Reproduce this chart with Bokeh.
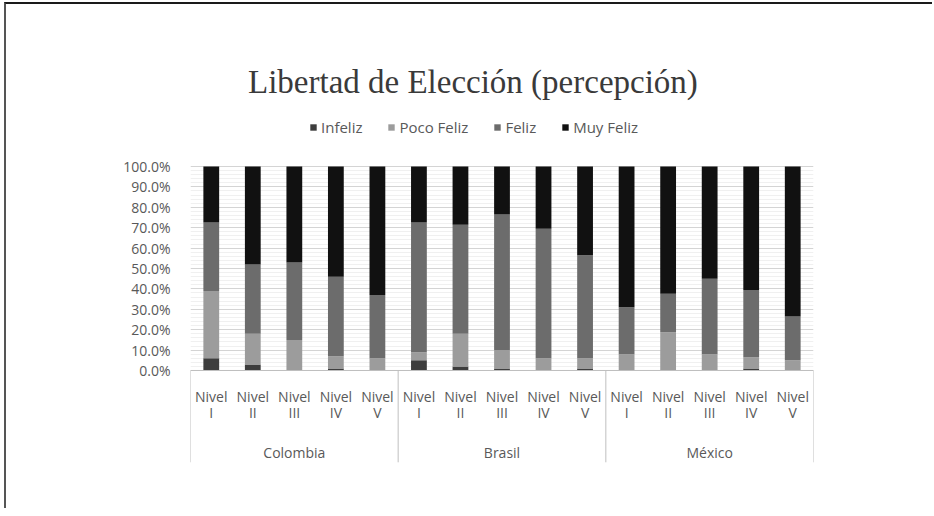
import numpy as np
from bokeh.plotting import figure
from bokeh.models import (FactorRange, Range1d, Legend, LegendItem, Label,
                          NumeralTickFormatter, FixedTicker, ColumnDataSource)
from bokeh.core.properties import value
from bokeh.embed import file_html
from bokeh.resources import INLINE

# ---------------- data ----------------
countries = ["Colombia", "Brasil", "México"]
niveles = ["I", "II", "III", "IV", "V"]
series = ["Infeliz", "Poco Feliz", "Feliz", "Muy Feliz"]

# percentages, order: Colombia I..V, Brasil I..V, México I..V
infeliz    = [6.0, 3.0, 0.0, 1.0, 0.0,   5.0, 2.0, 1.0, 0.0, 1.0,   0.0, 0.0, 0.0, 1.0, 0.0]
poco_feliz = [33.0, 15.0, 15.0, 6.0, 6.0, 4.0, 16.0, 9.0, 6.0, 5.0, 8.0, 18.8, 8.0, 5.5, 5.0]
feliz      = [33.5, 34.0, 38.0, 39.0, 31.0, 63.5, 53.5, 66.5, 63.5, 50.5, 23.0, 18.8, 37.0, 33.0, 21.5]
muy_feliz  = [27.5, 48.0, 47.0, 54.0, 63.0, 27.5, 28.5, 23.5, 30.5, 43.5, 69.0, 62.4, 55.0, 60.5, 73.5]

colors = ["#3d3d3d", "#9c9c9c", "#6c6c6c", "#111111"]
title_text = "Libertad de Elección (percepción)"

# ---------------- build ----------------
factors = [(c, n) for c in countries for n in niveles]
src = ColumnDataSource(data=dict(
    x=factors,
    Infeliz=[v / 100 for v in infeliz],
    **{"Poco Feliz": [v / 100 for v in poco_feliz]},
    Feliz=[v / 100 for v in feliz],
    **{"Muy Feliz": [v / 100 for v in muy_feliz]},
))

x_range = FactorRange(*factors, factor_padding=0, group_padding=0, range_padding=0)
p = figure(x_range=x_range, y_range=Range1d(-0.4657, 1.7157),
           width=928, height=506, output_backend="svg", toolbar_location=None,
           x_axis_location=None, min_border_left=184, min_border_right=121,
           min_border_top=16, min_border_bottom=45)
p.outline_line_color = None
p.styles = {"border-top": "2px solid #1a1a1a", "border-left": "2px solid #555555",
            "margin-left": "4px", "margin-top": "2px"}

ticks = list(np.round(np.arange(0, 1.0001, 0.1), 2))
minor = [t for t in np.round(np.arange(0, 1.0001, 0.02), 2) if t not in ticks]
ticker = FixedTicker(ticks=ticks, minor_ticks=minor)

p.yaxis.ticker = ticker
p.yaxis.bounds = (0, 1)
p.yaxis.formatter = NumeralTickFormatter(format="0.0%")
p.yaxis.axis_line_color = None
p.yaxis.major_tick_line_color = None
p.yaxis.minor_tick_line_color = None
p.yaxis.major_label_text_font = "Open Sans"
p.yaxis.major_label_text_font_size = "14px"
p.yaxis.major_label_text_color = "#595959"
p.yaxis.major_label_standoff = 14

p.xgrid.visible = False
p.ygrid.ticker = ticker
p.ygrid.bounds = (0, 1)
p.ygrid.grid_line_color = "#d4d4d4"
p.ygrid.minor_grid_line_color = "#f0f0f0"

rs = p.vbar_stack(series, x="x", width=0.38, color=colors, line_color=None, source=src)

# category axis (drawn manually)
bounds = [0]
for c in countries:
    bounds.append(bounds[-1] + len(niveles))
axis_col = "#bfbfbf"
p.segment(x0=[bounds[0]], y0=[0], x1=[bounds[-1]], y1=[0], line_color=axis_col, line_width=1)
p.segment(x0=bounds, y0=[0] * len(bounds), x1=bounds, y1=[-0.45] * len(bounds),
          line_color=axis_col, line_width=1)

txt = dict(text_align="center", text_baseline="middle", text_font=value("Open Sans"),
           text_font_size="14px", text_color="#595959")
p.text(x=factors, y=[-0.1275] * len(factors), text=["Nivel"] * len(factors), **txt)
p.text(x=factors, y=[-0.206] * len(factors), text=[n for c in countries for n in niveles], **txt)
p.text(x=countries, y=[-0.402] * len(countries), text=countries, **txt)

# title
p.add_layout(Label(x=6.8, y=1.412, text=title_text, text_align="center",
                   text_baseline="middle", text_font="Liberation Serif",
                   text_font_size="33px", text_color="#3a3a3a"))

legend = Legend(items=[LegendItem(label=s, renderers=[r]) for s, r in zip(series, rs)],
                orientation="horizontal", location=(119, 328),
                label_text_font="Open Sans", label_text_font_size="15px",
                label_text_color="#595959", glyph_width=8, glyph_height=8,
                label_standoff=4, spacing=25, padding=0, margin=0,
                border_line_color=None, background_fill_alpha=0)
p.add_layout(legend)

open("out.html", "w").write(file_html(p, INLINE))
